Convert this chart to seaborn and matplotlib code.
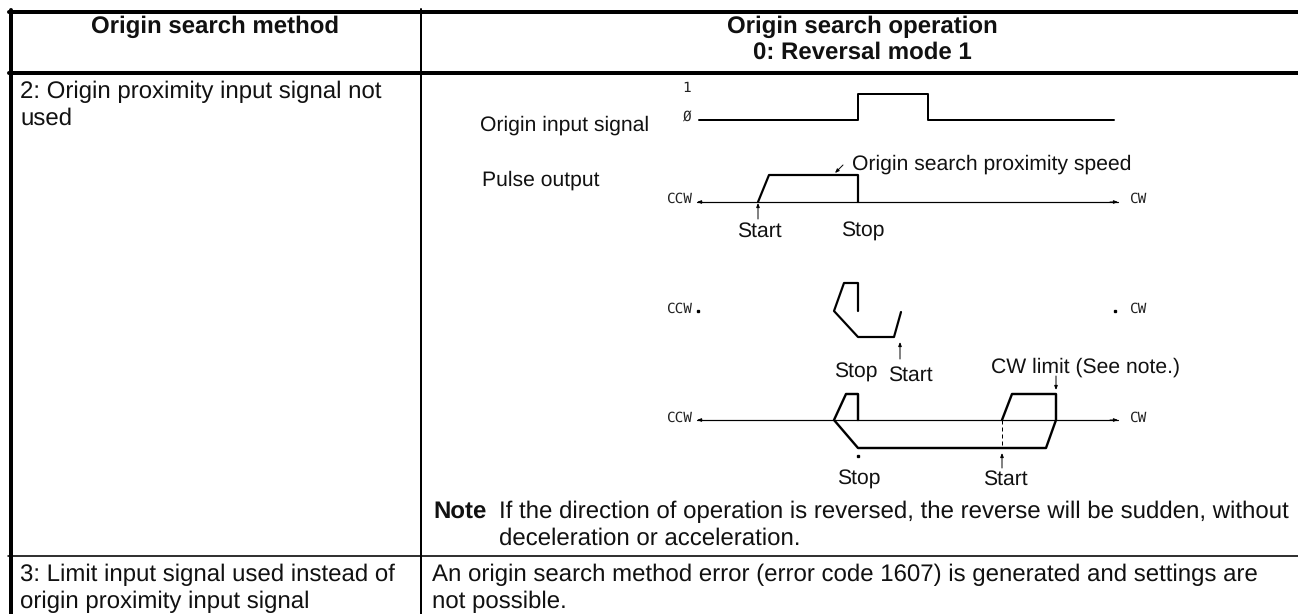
import matplotlib
matplotlib.use("Agg")
import matplotlib.pyplot as plt
import seaborn as sns
import pandas as pd

sns.set_theme(style="white")
plt.rcParams["font.family"] = ["Liberation Sans", "DejaVu Sans"]
plt.rcParams["text.hinting"] = "none"

W, H = 1298, 614

# table rules: (x list, y list, line width px)
table_rules = [
    ([9, 1298], [12, 12], 4.0),
    ([9, 1298], [73, 73], 4.0),
    ([8, 1298], [555.5, 555.5], 1.6),
    ([11, 11], [10, 614], 4.0),
    ([421, 421], [9, 614], 2.0),
]

signal_x = [699, 858, 858, 928, 928, 1114]
signal_y = [120, 120, 94, 94, 120, 120]
pulse1_x = [758, 769, 858, 858]
pulse1_y = [202, 175, 175, 202]
pulse2_x = [858, 858, 844, 834, 858, 894, 901]
pulse2_y = [311, 283, 283, 311, 337, 337, 312]
pulse3_x = [858, 858, 846, 834, 858, 1046, 1056, 1056, 1012, 1002]
pulse3_y = [420, 394, 394, 420, 448, 448, 420, 394, 394, 420]
dash_x = [1002, 1002]
dash_y = [420, 448]

# arrows: (tail x, tail y, head x, head y)
arrows = [
    (702, 202, 697, 202),
    (1110, 202, 1118, 202),
    (702, 420, 697, 420),
    (1110, 420, 1118, 420),
    (843, 165, 835, 173),
    (758, 219, 758, 203),
    (900, 359, 900, 342),
    (1002, 468, 1002, 453),
    (1056, 376, 1056, 390),
]
axis_rows = [202, 420]
axis_span = [697, 1118]

# x, baseline y, text, alignment, weight
table_texts = [
    (20, 98, "2: Origin proximity input signal not", "left", "normal"),
    (20, 125, "used", "left", "normal"),
    (20, 581, "3: Limit input signal used instead of", "left", "normal"),
    (20, 608, "origin proximity input signal", "left", "normal"),
    (432, 581, "An origin search method error (error code 1607) is generated and settings are", "left", "normal"),
    (432, 608, "not possible.", "left", "normal"),
    (215, 33, "Origin search method", "center", "bold"),
    (862, 33, "Origin search operation", "center", "bold"),
    (862, 59, "0: Reversal mode 1", "center", "bold"),
    (433, 518, "Note", "left", "bold"),
    (499, 518, "If the direction of operation is reversed, the reverse will be sudden, without", "left", "normal"),
    (499, 545, "deceleration or acceleration.", "left", "normal"),
]
diagram_texts = [
    (480, 131, "Origin input signal", "left"),
    (482, 186, "Pulse output", "left"),
    (852, 170, "Origin search proximity speed", "left"),
    (759, 237, "Start", "center"),
    (863, 237, "Stop", "center"),
    (856, 378, "Stop", "center"),
    (910, 381, "Start", "center"),
    (859, 485, "Stop", "center"),
    (1005, 485, "Start", "center"),
    (991, 373, "CW limit (See note.)", "left"),
]
mono_texts = [
    (687, 88, "1"), (687, 118, "Ø"),
    (679, 199, "CCW"), (1138, 199, "CW"),
    (679, 309, "CCW"), (1138, 309, "CW"),
    (679, 418, "CCW"), (1138, 418, "CW"),
]
dots = [(858, 456), (698, 311), (1115, 311)]

fig = plt.figure(figsize=(W / 100, H / 100), dpi=100)
ax = fig.add_axes([0, 0, 1, 1])
PX = 0.72


def trace(xs, ys, lw, **kw):
    df = pd.DataFrame({"x": xs, "y": ys, "order": range(len(xs))})
    sns.lineplot(data=df, x="x", y="y", sort=False, estimator=None, ax=ax,
                 color="black", linewidth=lw * PX, legend=False, **kw)


for xs, ys, lw in table_rules:
    trace(xs, ys, lw)
for row in axis_rows:
    trace(axis_span, [row, row], 1.2)
trace(signal_x, signal_y, 2.0)
trace(pulse1_x, pulse1_y, 2.2)
trace(pulse2_x, pulse2_y, 2.2)
trace(pulse3_x, pulse3_y, 2.4)
trace(dash_x, dash_y, 1.0, linestyle=(0, (4, 3)))

for x0, y0, x1, y1 in arrows:
    ax.annotate("", xy=(x1, y1), xytext=(x0, y0),
                arrowprops=dict(arrowstyle="-|>,head_width=0.08,head_length=0.2",
                                color="black", lw=0.7, shrinkA=0, shrinkB=0))
for x, y in dots:
    ax.plot([x], [y], marker="s", ms=1.4, color="black")

for x, y, s, ha, weight in table_texts:
    ax.text(x, y, s, ha=ha, va="baseline", fontsize=17.3, fontweight=weight, color="#111111")
for x, y, s, ha in diagram_texts:
    ax.text(x, y, s, ha=ha, va="baseline", fontsize=15.2, color="#111111")
for x, y, s in mono_texts:
    ax.text(x, y, s, ha="center", va="center", fontsize=10.4, family="DejaVu Sans Mono", color="#222222")

ax.set_xlim(0, W)
ax.set_ylim(H, 0)
ax.set_xlabel("")
ax.set_ylabel("")
ax.set_xticks([])
ax.set_yticks([])
for spine in ax.spines.values():
    spine.set_visible(False)
fig.savefig("out.png", dpi=100, facecolor="white")
